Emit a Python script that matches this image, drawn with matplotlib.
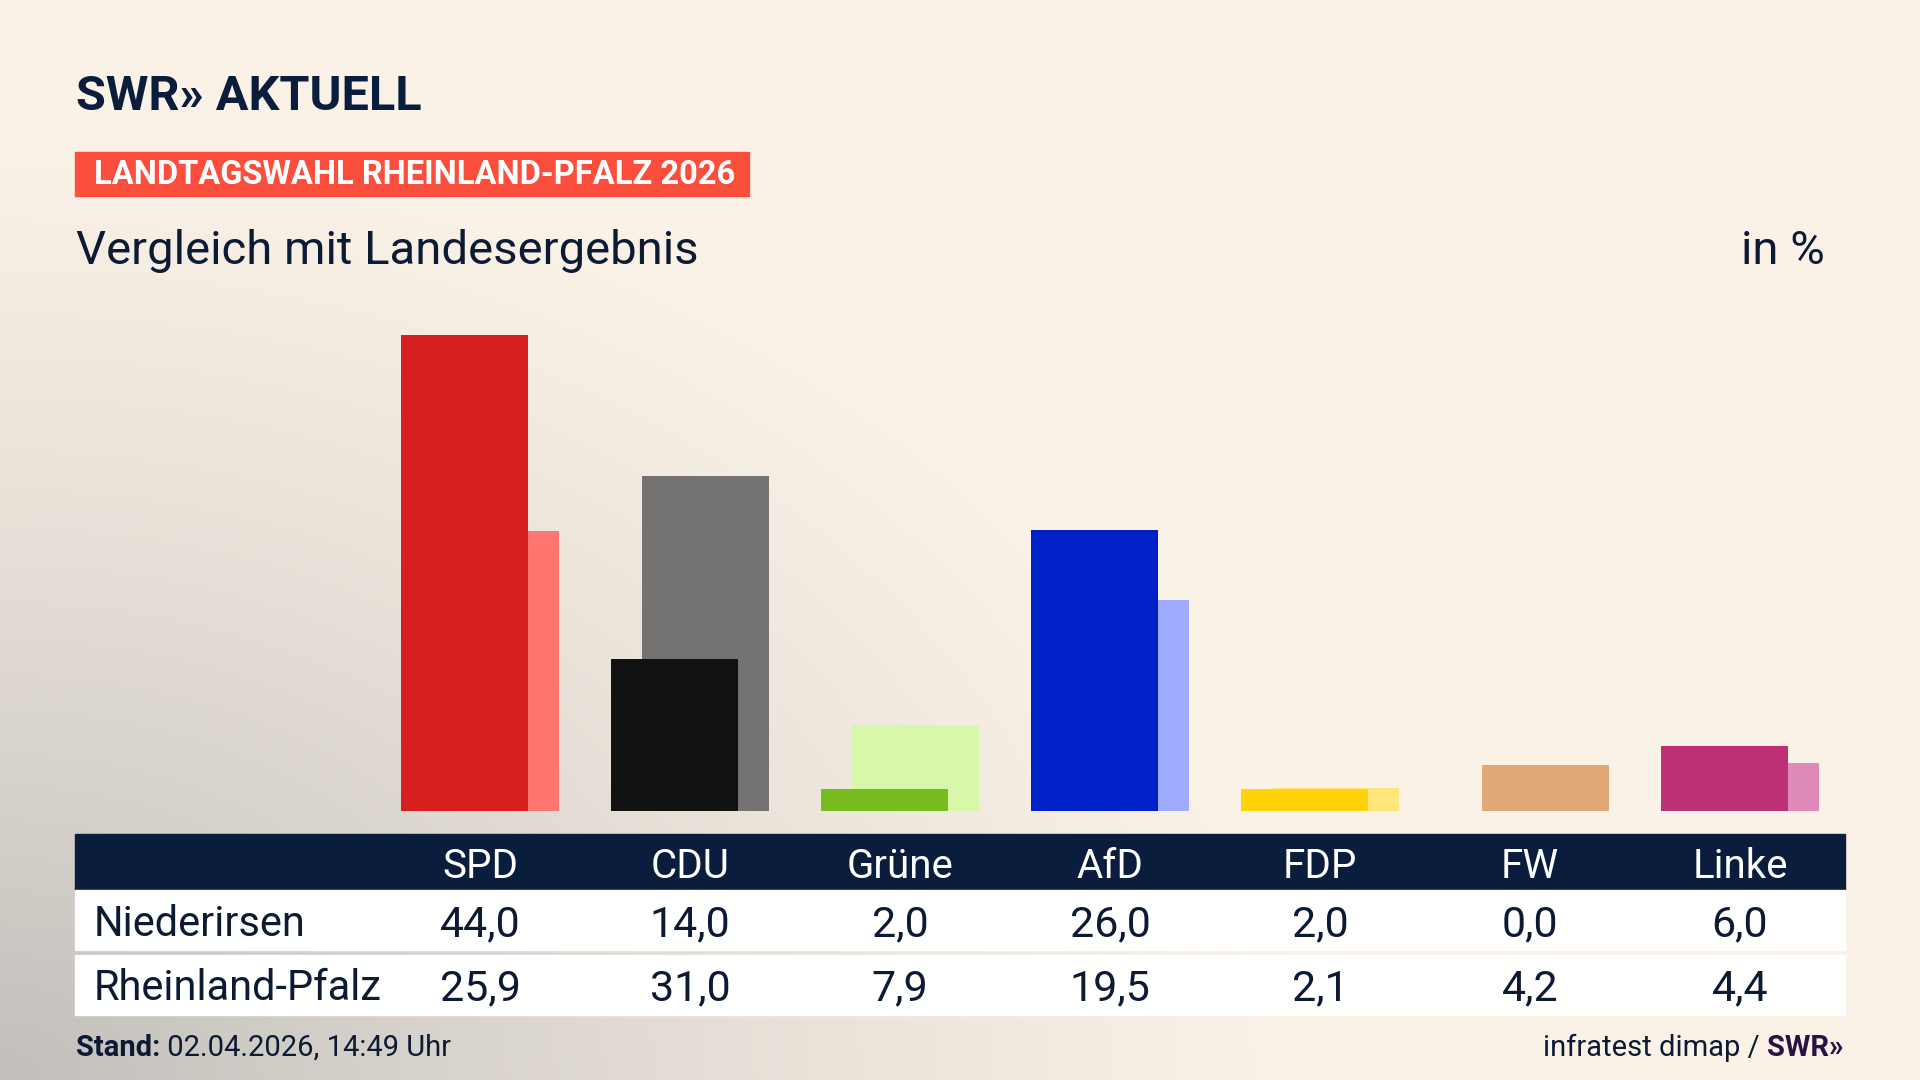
import numpy as np
import matplotlib
matplotlib.use("Agg")
import matplotlib.pyplot as plt
from matplotlib.patches import Rectangle
from matplotlib import transforms

plt.rcParams['font.family'] = ['Roboto', 'DejaVu Sans']

# data
parties = ["SPD", "CDU", "Grüne", "AfD", "FDP", "FW", "Linke"]
niederirsen = [44.0, 14.0, 2.0, 26.0, 2.0, 0.0, 6.0]
landesergebnis = [25.9, 31.0, 7.9, 19.5, 2.1, 4.2, 4.4]
row_labels = ["Niederirsen", "Rheinland-Pfalz"]
colors_front = ["#d71f1f", "#121212", "#78bb1e", "#0020c8", "#ffd20a", "#dfa876", "#be3075"]
colors_back = ["#ff7570", "#747372", "#d7f7ab", "#9eabff", "#ffe57a", "#dfa876", "#e08ab8"]

NAVY = "#0b1d3c"
TEXT = "#0c1a33"

fig = plt.figure(figsize=(19.2, 10.8), dpi=100)

# background gradient, grey in the lower left corner, cream elsewhere
yy, xx = np.mgrid[0:1080, 0:1920]
d = np.sqrt((xx / 1300.0) ** 2 + ((1080 - yy) / 950.0) ** 2)
t = np.clip(1 - d, 0, 1) ** 1.2
cream = np.array([250, 242, 231]) / 255
grey = np.array([194, 191, 187]) / 255
img = cream[None, None, :] * (1 - t[..., None]) + grey[None, None, :] * t[..., None]

bg = fig.add_axes([0, 0, 1, 1])
bg.imshow(img, extent=[0, 1920, 1080, 0], aspect='auto', zorder=0)
bg.set_xlim(0, 1920)
bg.set_ylim(1080, 0)
bg.axis('off')

# header
bg.text(76, 97, "SWR» AKTUELL", fontsize=35, fontweight='bold', color=NAVY, va='center', ha='left')
bg.add_patch(Rectangle((75, 152), 674, 44, color="#fc4e3c", zorder=2))
bg.text(94, 175, "LANDTAGSWAHL RHEINLAND-PFALZ 2026", fontsize=23.5, fontweight='bold',
        color='white', va='center', ha='left', zorder=3)
bg.text(76, 251, "Vergleich mit Landesergebnis", fontsize=34, color=TEXT, va='center', ha='left')
bg.text(1825, 251, "in %", fontsize=34, color=TEXT, va='center', ha='right')

# bars
ax = fig.add_axes([375 / 1920, 269.4 / 1080, 1470 / 1920, 540 / 1080])
ax.patch.set_alpha(0)
x = np.arange(len(parties))
w = 0.605
off = 0.076
ax.bar(x + off, landesergebnis, width=w, color=colors_back, zorder=1)
ax.bar(x - off, niederirsen, width=w, color=colors_front, zorder=2)
ax.set_xlim(-0.5, len(parties) - 0.5)
ax.set_ylim(0, 50)
ax.axis('off')

# table below the bars
bg.add_patch(Rectangle((75, 834), 1770, 56, color=NAVY, zorder=2))
bg.add_patch(Rectangle((75, 890), 1770, 60, color='white', zorder=2))
bg.add_patch(Rectangle((75, 955), 1770, 60, color='white', zorder=2))
tr = transforms.blended_transform_factory(ax.transData, bg.transData)
for i, p in enumerate(parties):
    fig.text(i, 866, p, transform=tr, fontsize=29, color='white', ha='center', va='center', zorder=5)
    fig.text(i, 925, f"{niederirsen[i]:.1f}".replace('.', ','), transform=tr, fontsize=31,
             color=TEXT, ha='center', va='center', zorder=5)
    fig.text(i, 989, f"{landesergebnis[i]:.1f}".replace('.', ','), transform=tr, fontsize=31,
             color=TEXT, ha='center', va='center', zorder=5)
bg.text(94, 925, row_labels[0], fontsize=30, color=TEXT, ha='left', va='center', zorder=5)
bg.text(94, 989, row_labels[1], fontsize=30, color=TEXT, ha='left', va='center', zorder=5)

# footer
st = bg.text(76, 1062, "Stand:", fontsize=21, fontweight='bold', color=TEXT, ha='left', va='bottom')
bg.annotate(" 02.04.2026, 14:49 Uhr", xy=(1, 0), xycoords=st, fontsize=21, color=TEXT,
            ha='left', va='bottom')
sw = bg.text(1843, 1062, "SWR»", fontsize=21, fontweight='bold', color="#2a1245", ha='right', va='bottom')
bg.annotate("infratest dimap / ", xy=(0, 0), xycoords=sw, fontsize=21, color=TEXT,
            ha='right', va='bottom')

fig.savefig("out.png", dpi=100)
